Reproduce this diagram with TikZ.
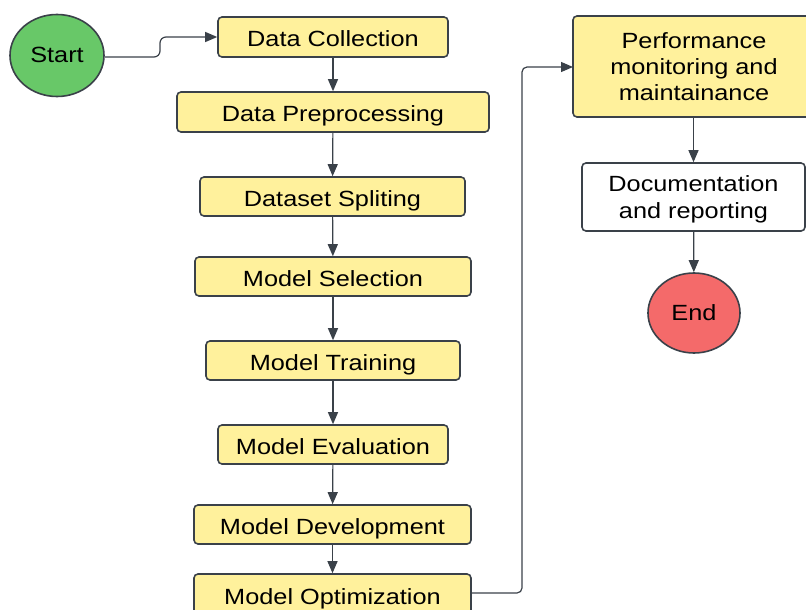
\documentclass[tikz,border=0pt]{standalone}
\usepackage{fontspec}
\setmainfont[FakeStretch=1.15]{Liberation Sans}
\usetikzlibrary{arrows.meta,shapes.geometric}
\definecolor{boxyellow}{HTML}{FFF19C}
\definecolor{edgegray}{HTML}{3A4149}
\definecolor{startgreen}{HTML}{68C868}
\definecolor{endred}{HTML}{F46A6A}
\tikzset{
  box/.style={draw=edgegray, line width=1.6pt, rounded corners=4pt, fill=boxyellow,
    inner sep=0pt, align=center, font=\fontsize{22}{26.3}\selectfont},
  onel/.style={text height=19.5pt, text depth=0pt},
  wbox/.style={box, fill=white},
  term/.style={ellipse, draw=edgegray, line width=1.6pt, inner sep=0pt,
    font=\fontsize{22}{26.3}\selectfont, text height=18pt, text depth=3pt},
  conn/.style={draw=edgegray, line width=1.2pt, -{Triangle[length=12pt,width=10pt]}},
}
\begin{document}
\begin{tikzpicture}[x=1pt,y=-1pt]
\useasboundingbox (0,0) rectangle (806,610);
\clip (0,0) rectangle (806,610);
\node[term, fill=startgreen, minimum width=94pt, minimum height=82pt] (start) at (57,55.5) {Start};
\node[box, onel, minimum width=230pt, minimum height=40pt] (dc) at (333,37) {Data Collection};
\node[box, onel, minimum width=312pt, minimum height=40pt] (dp) at (333,112) {Data Preprocessing};
\node[box, onel, minimum width=265pt, minimum height=39pt] (ds) at (332.5,196.5) {Dataset Spliting};
\node[box, onel, minimum width=276pt, minimum height=39pt] (ms) at (333,276.5) {Model Selection};
\node[box, onel, minimum width=254pt, minimum height=39pt] (mt) at (333,360.5) {Model Training};
\node[box, onel, minimum width=230pt, minimum height=39pt] (me) at (333,444.5) {Model Evaluation};
\node[box, onel, minimum width=277pt, minimum height=39pt] (md) at (332.5,524.5) {Model Development};
\node[box, onel, minimum width=277pt, minimum height=42pt] (mo) at (332.5,595) {Model Optimization};
\node[box, minimum width=242pt, minimum height=101pt] (pm) at (694,66.5) {Performance\\monitoring and\\maintainance};
\node[wbox, text depth=-1.5pt, minimum width=223pt, minimum height=68pt] (doc) at (693.5,197) {Documentation\\and reporting};
\node[term, fill=endred, minimum width=92pt, minimum height=80pt] (end) at (694,313) {End};
\coordinate (pmin) at (573,67);
\draw[conn, rounded corners=6pt] (start.east |- 0,57) -- (160,57) -- (160,37) -- (dc.west);
\draw[conn] (dc) -- (dp);
\draw[conn] (dp) -- (ds);
\draw[conn] (ds) -- (ms);
\draw[conn] (ms) -- (mt);
\draw[conn] (mt) -- (me);
\draw[conn] (me) -- (md);
\draw[conn] (md) -- (mo);
\draw[conn, rounded corners=5pt] (mo.east |- 0,593) -- (522,593) -- (522,67) -- (pmin);
\draw[conn] (pm.south -| doc.north) -- (doc.north);
\draw[conn] (doc) -- (end);
\end{tikzpicture}
\end{document}
